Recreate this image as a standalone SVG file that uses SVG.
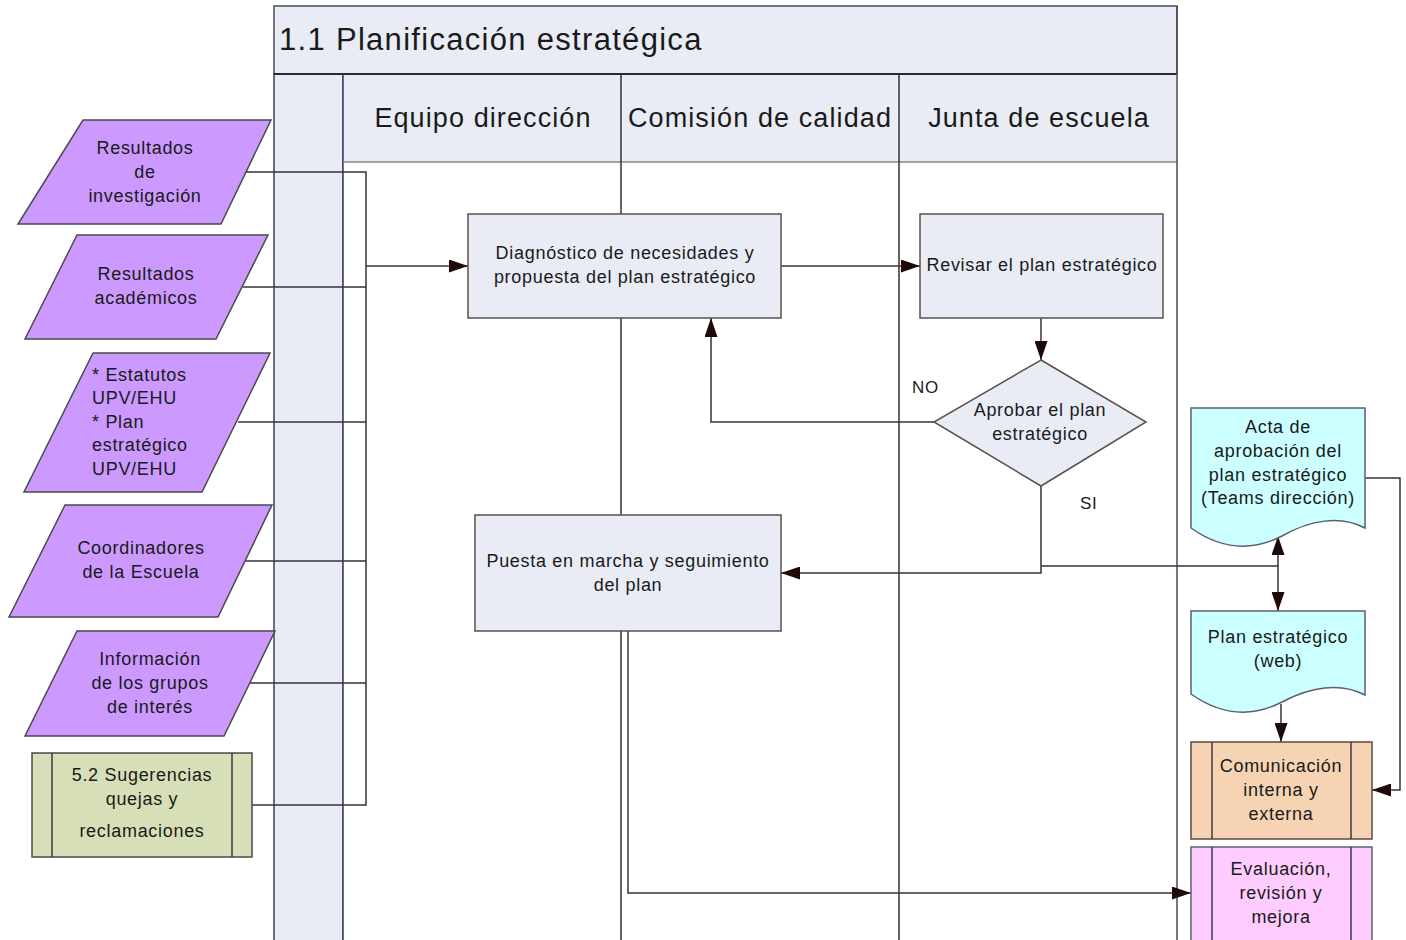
<svg xmlns="http://www.w3.org/2000/svg" width="1406" height="940" viewBox="0 0 1406 940">
<style>
text{font-family:"Liberation Sans",Arial,sans-serif;fill:#1a1a1a;}
.t{font-size:18px;text-anchor:middle;letter-spacing:0.7px;}
.tl{font-size:18px;text-anchor:start;letter-spacing:0.7px;}
.hdr{font-size:27px;text-anchor:middle;letter-spacing:1.1px;}
.lane{stroke:#3a2e2e;stroke-width:1.5;fill:none;}
.inp{fill:#cc99ff;stroke:#4a4a4a;stroke-width:1.5;}
.box{fill:#e9ecf5;stroke:#5a5050;stroke-width:1.5;}
.doc{fill:#ccffff;stroke:#5a6070;stroke-width:1.5;}
.sub{stroke:#3a3a4a;stroke-width:1.5;}
.c{fill:none;stroke:#3a3040;stroke-width:1.5;}
.ca{fill:none;stroke:#3a3040;stroke-width:1.5;marker-end:url(#ah);}
</style>
<defs>
<marker id="ah" markerUnits="userSpaceOnUse" markerWidth="19" markerHeight="13" refX="19" refY="6.5" orient="auto">
<path d="M0,0 L19,6.5 L0,13 z" fill="#1f0808"/>
</marker>
</defs>
<rect width="1406" height="940" fill="#ffffff"/>
<g id="pool">
<rect x="274" y="6" width="903" height="68" fill="#e9ecf5" stroke="#4a4a5a" stroke-width="1.5"/>
<text x="279" y="50" style="font-size:31px;letter-spacing:1.3px">1.1 Planificación estratégica</text>
<rect x="274" y="74" width="69" height="870" fill="#e9ecf5" stroke="#3a4060" stroke-width="1.5"/>
<rect x="343" y="74" width="834" height="88" fill="#e9ecf5"/>
<rect x="343" y="162" width="834" height="782" fill="#ffffff"/>
<line x1="274" y1="74" x2="1177" y2="74" stroke="#2a2a2a" stroke-width="2"/>
<line x1="343" y1="74" x2="343" y2="940" stroke="#3a4060" stroke-width="1.5"/>
<line x1="343" y1="162" x2="1177" y2="162" stroke="#8a8a8a" stroke-width="1.5"/>
<line x1="621" y1="74" x2="621" y2="940" class="lane"/>
<line x1="899" y1="74" x2="899" y2="940" class="lane"/>
<line x1="1177" y1="6" x2="1177" y2="940" stroke="#4a4a5a" stroke-width="1.5"/>
<text x="483" y="127" class="hdr">Equipo dirección</text>
<text x="760" y="127" class="hdr">Comisión de calidad</text>
<text x="1039" y="127" class="hdr">Junta de escuela</text>
</g>
<g id="connectors">
<path class="c" d="M246,172 H366 V805 H252"/>
<path class="c" d="M243,287 H366"/>
<path class="c" d="M238,422 H366"/>
<path class="c" d="M245,561 H366"/>
<path class="c" d="M250,683 H366"/>
<path class="ca" d="M366,266 H468"/>
<path class="ca" d="M781,266 H920"/>
<path class="ca" d="M1041,318 V360"/>
<path class="ca" d="M934,422 H711 V318"/>
<path class="ca" d="M1041,486 V573 H781"/>
<path class="ca" d="M1041,566 H1278 V536"/>
<path class="ca" d="M1278,566 V611"/>
<path class="ca" d="M1281,704 V742"/>
<path class="ca" d="M1365,478 H1400 V790 H1372"/>
<path class="ca" d="M628,631 V893 H1191"/>
<text x="912" y="393" style="font-size:17px;letter-spacing:0.7px">NO</text>
<text x="1080" y="509" style="font-size:17px;letter-spacing:0.7px">SI</text>
</g>
<g id="in1">
<polygon class="inp" points="83,120 271,120 221,224 18,224"/>
<text class="t" x="145" y="154">Resultados</text>
<text class="t" x="145" y="178">de</text>
<text class="t" x="145" y="202">investigación</text>
</g>
<g id="in2">
<polygon class="inp" points="77,235 268,235 216,339 25,339"/>
<text class="t" x="146" y="280">Resultados</text>
<text class="t" x="146" y="304">académicos</text>
</g>
<g id="in3">
<polygon class="inp" points="93,353 270,353 202,492 24,492"/>
<text class="tl" x="92" y="381">* Estatutos</text>
<text class="tl" x="92" y="404">UPV/EHU</text>
<text class="tl" x="92" y="428">* Plan</text>
<text class="tl" x="92" y="451">estratégico</text>
<text class="tl" x="92" y="475">UPV/EHU</text>
</g>
<g id="in4">
<polygon class="inp" points="65,505 272,505 218,617 9,617"/>
<text class="t" x="141" y="554">Coordinadores</text>
<text class="t" x="141" y="578">de la Escuela</text>
</g>
<g id="in5">
<polygon class="inp" points="77,631 275,631 224,736 25,736"/>
<text class="t" x="150" y="665">Información</text>
<text class="t" x="150" y="689">de los grupos</text>
<text class="t" x="150" y="713">de interés</text>
</g>
<g id="in6">
<rect x="32" y="753" width="220" height="104" fill="#d7dfb8" stroke="#4a4a4a" stroke-width="1.5"/>
<line class="sub" x1="52" y1="753" x2="52" y2="857"/>
<line class="sub" x1="232" y1="753" x2="232" y2="857"/>
<text class="t" x="142" y="781">5.2 Sugerencias</text>
<text class="t" x="142" y="805">quejas y</text>
<text class="t" x="142" y="837">reclamaciones</text>
</g>
<g id="diagnostico">
<rect class="box" x="468" y="214" width="313" height="104"/>
<text class="t" x="625" y="259">Diagnóstico de necesidades y</text>
<text class="t" x="625" y="283">propuesta del plan estratégico</text>
</g>
<g id="revisar">
<rect class="box" x="920" y="214" width="243" height="104"/>
<text class="t" x="1042" y="271">Revisar el plan estratégico</text>
</g>
<g id="aprobar">
<polygon class="box" points="1041,360 1146,422 1041,486 934,422"/>
<text class="t" x="1040" y="416">Aprobar el plan</text>
<text class="t" x="1040" y="440">estratégico</text>
</g>
<g id="puesta">
<rect class="box" x="475" y="515" width="306" height="116"/>
<text class="t" x="628" y="567">Puesta en marcha y seguimiento</text>
<text class="t" x="628" y="591">del plan</text>
</g>
<g id="acta">
<path class="doc" d="M1191,408 H1365 V528 C1340,515 1310,520 1282,536 C1255,550 1225,552 1191,528 Z"/>
<text class="t" x="1278" y="433">Acta de</text>
<text class="t" x="1278" y="457">aprobación del</text>
<text class="t" x="1278" y="481">plan estratégico</text>
<text class="t" x="1278" y="504">(Teams dirección)</text>
</g>
<g id="planweb">
<path class="doc" d="M1191,611 H1365 V695 C1340,682 1310,687 1282,702 C1255,716 1225,718 1191,694 Z"/>
<text class="t" x="1278" y="643">Plan estratégico</text>
<text class="t" x="1278" y="667">(web)</text>
</g>
<g id="comunicacion">
<rect x="1191" y="742" width="181" height="97" fill="#f5d3b3" stroke="#5a4a44" stroke-width="1.5"/>
<line class="sub" x1="1212" y1="742" x2="1212" y2="839"/>
<line class="sub" x1="1351" y1="742" x2="1351" y2="839"/>
<text class="t" x="1281" y="772">Comunicación</text>
<text class="t" x="1281" y="796">interna y</text>
<text class="t" x="1281" y="820">externa</text>
</g>
<g id="evaluacion">
<rect x="1191" y="847" width="181" height="100" fill="#ffccff" stroke="#5a6070" stroke-width="1.5"/>
<line class="sub" x1="1212" y1="847" x2="1212" y2="940"/>
<line class="sub" x1="1351" y1="847" x2="1351" y2="940"/>
<text class="t" x="1281" y="875">Evaluación,</text>
<text class="t" x="1281" y="899">revisión y</text>
<text class="t" x="1281" y="923">mejora</text>
</g>
</svg>
